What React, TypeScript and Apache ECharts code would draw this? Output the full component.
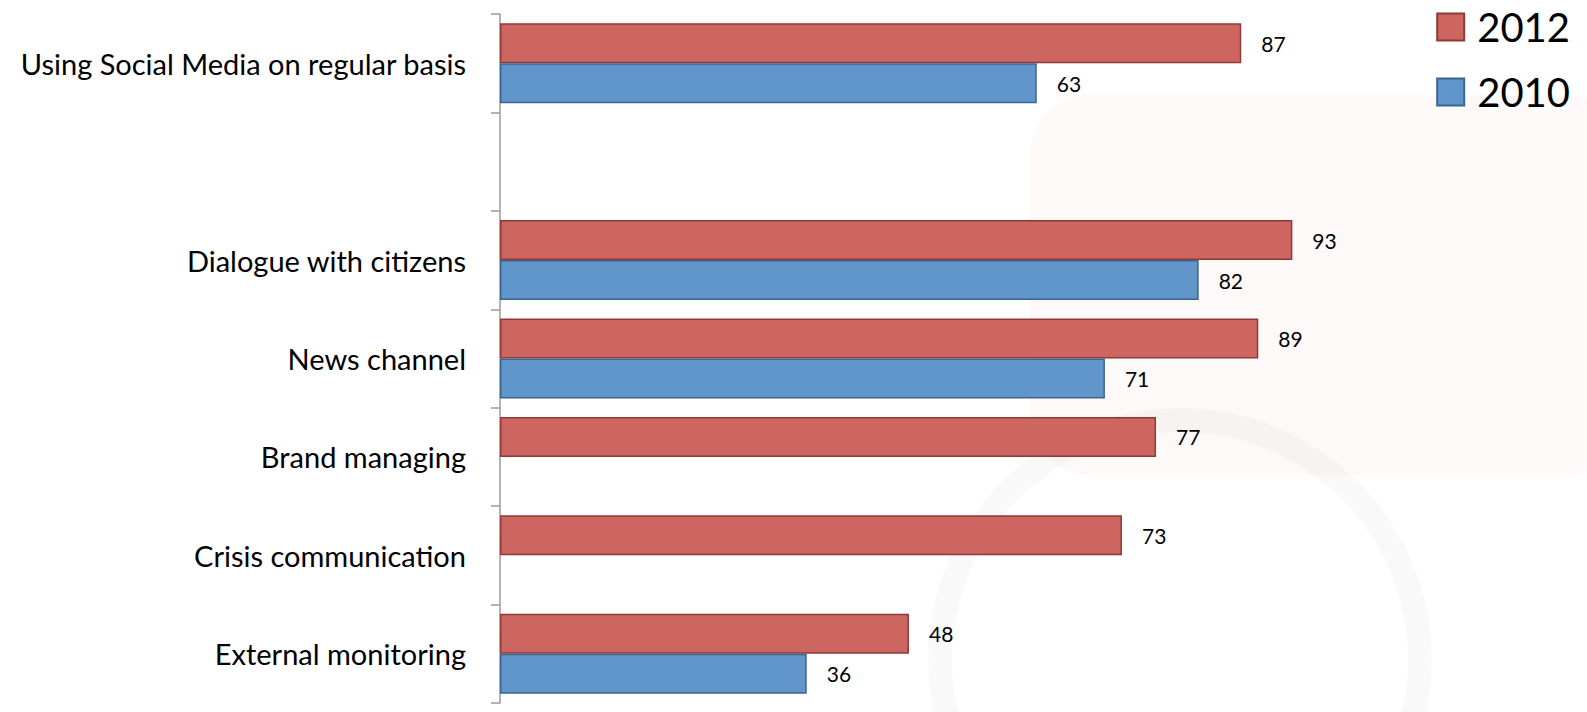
import React, { useEffect, useRef } from "react";
import * as echarts from "echarts";

const categories = [
  "Using Social Media on regular basis",
  "",
  "Dialogue with citizens",
  "News channel",
  "Brand managing",
  "Crisis communication",
  "External monitoring",
];
const values2012 = [87, null, 93, 89, 77, 73, 48];
const values2010 = [63, null, 82, 71, null, null, 36];
const seriesNames = ["2012", "2010"];

const FONT = "Lato";

export default function App() {
  const ref = useRef<HTMLDivElement>(null);
  useEffect(() => {
    const chart = echarts.init(ref.current!, null, { renderer: "svg" });
    const label = {
      show: true,
      position: "right",
      distance: 20,
      fontSize: 21,
      color: "#000",
      fontFamily: FONT,
    };
    chart.setOption({
      animation: false,
      backgroundColor: "#fff",
      graphic: [
        {
          type: "rect",
          z: -10,
          silent: true,
          shape: { x: 1030, y: 95, width: 600, height: 380, r: 60 },
          style: { fill: "rgba(205,90,80,0.04)" },
        },
        {
          type: "circle",
          z: -10,
          silent: true,
          shape: { cx: 1180, cy: 660, r: 240 },
          style: { fill: "none", stroke: "rgba(0,0,0,0.025)", lineWidth: 24 },
        },
      ],
      grid: { left: 500, top: 14, height: 689, width: 852 },
      legend: {
        orient: "vertical",
        right: 12,
        top: 2,
        itemWidth: 27,
        itemHeight: 27,
        itemGap: 25,
        icon: "rect",
        textStyle: {
          fontSize: 40,
          fontFamily: FONT,
          color: "#000",
          lineHeight: 40,
          padding: [0, 0, 0, 8],
        },
        data: seriesNames,
      },
      xAxis: { type: "value", min: 0, max: 100, show: false },
      yAxis: {
        type: "category",
        inverse: true,
        data: categories,
        axisLine: { lineStyle: { color: "#9a9a9a", width: 1.5 } },
        axisTick: { show: true, length: 9, lineStyle: { color: "#9a9a9a", width: 1.5 } },
        axisLabel: { fontSize: 29, fontFamily: FONT, color: "#000", margin: 34 },
      },
      series: [
        {
          name: seriesNames[0],
          type: "bar",
          data: values2012,
          barWidth: 40,
          barGap: "0%",
          itemStyle: { color: "#CD6660", borderColor: "#8E3B37", borderWidth: 1.5 },
          label,
        },
        {
          name: seriesNames[1],
          type: "bar",
          data: values2010,
          barWidth: 40,
          barGap: "0%",
          itemStyle: { color: "#6196CB", borderColor: "#3D6391", borderWidth: 1.5 },
          label,
        },
      ],
    });
    return () => chart.dispose();
  }, []);
  return (
    <div
      ref={ref}
      style={{ position: "fixed", left: 0, top: 0, width: 1587, height: 712 }}
    />
  );
}
